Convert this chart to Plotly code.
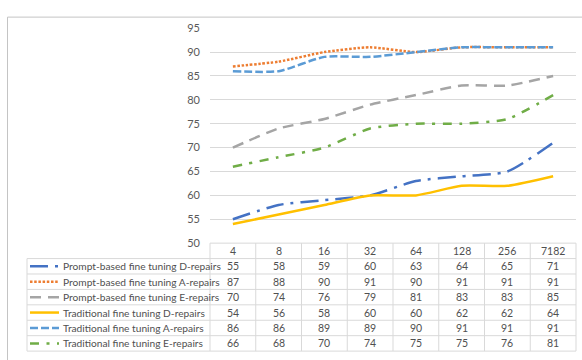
import plotly.graph_objects as go

# Few-shot sizes (category axis) and scores per method
shots = ["4", "8", "16", "32", "64", "128", "256", "7182"]

series_names = [
    "Prompt-based fine tuning D-repairs",
    "Prompt-based fine tuning A-repairs",
    "Prompt-based fine tuning E-repairs",
    "Traditional fine tuning D-repairs",
    "Traditional fine tuning A-repairs",
    "Traditional fine tuning E-repairs",
]
prompt_d = [55, 58, 59, 60, 63, 64, 65, 71]
prompt_a = [87, 88, 90, 91, 90, 91, 91, 91]
prompt_e = [70, 74, 76, 79, 81, 83, 83, 85]
trad_d = [54, 56, 58, 60, 60, 62, 62, 64]
trad_a = [86, 86, 89, 89, 90, 91, 91, 91]
trad_e = [66, 68, 70, 74, 75, 75, 76, 81]
y_ticks = [50, 55, 60, 65, 70, 75, 80, 85, 90, 95]

series_values = [prompt_d, prompt_a, prompt_e, trad_d, trad_a, trad_e]
colors = ["#4472C4", "#ED7D31", "#A5A5A5", "#FFC000", "#5B9BD5", "#70AD47"]
dashes = [
    "18px,7px,3px,7px",
    "2.5px,1.7px",
    "11px,7px",
    "solid",
    "8px,3px",
    "9px,7.5px,3px,7.5px",
]

W, H = 582, 360
FONT = "Lato, sans-serif"
TEXT_COLOR = "#595959"
CELL_COLOR = "#505050"
GRID = "#D9D9D9"

# pixel geometry of the plotting area and the data table beneath it
PLOT_L, PLOT_R, PLOT_T, PLOT_B = 210, 576, 22, 245
LEG_L = 27
ROW_H = 16


def px(x):
    return x / W


def py(y):
    return 1 - y / H


fig = go.Figure()
for name, vals, col, dash in zip(series_names, series_values, colors, dashes):
    fig.add_trace(go.Scatter(
        x=shots, y=vals, name=name, mode="lines",
        line=dict(color=col, width=2.5, dash=dash, shape="spline", smoothing=0.6),
        showlegend=False, cliponaxis=False,
    ))

shapes = []
annotations = []

# outer chart frame
shapes.append(dict(type="rect", xref="paper", yref="paper",
                   x0=px(7.5), x1=1.05, y0=-0.05, y1=py(10.5),
                   line=dict(color="#C4C4C4", width=1)))

n = len(shots)
col_w = (PLOT_R - PLOT_L) / n
table_bottom = PLOT_B + ROW_H * (len(series_names) + 1)

# header top border
shapes.append(dict(type="line", xref="paper", yref="paper",
                   x0=px(PLOT_L), x1=px(PLOT_R), y0=py(PLOT_B), y1=py(PLOT_B),
                   line=dict(color=GRID, width=1)))
# row borders
for r in range(1, len(series_names) + 2):
    yy = PLOT_B + ROW_H * r
    shapes.append(dict(type="line", xref="paper", yref="paper",
                       x0=px(LEG_L), x1=px(PLOT_R), y0=py(yy), y1=py(yy),
                       line=dict(color=GRID, width=1)))
# column borders
for j in range(n + 1):
    xx = PLOT_L + col_w * j
    shapes.append(dict(type="line", xref="paper", yref="paper",
                       x0=px(xx), x1=px(xx), y0=py(PLOT_B), y1=py(table_bottom),
                       line=dict(color=GRID, width=1)))
shapes.append(dict(type="line", xref="paper", yref="paper",
                   x0=px(LEG_L), x1=px(LEG_L), y0=py(PLOT_B + ROW_H), y1=py(table_bottom),
                   line=dict(color=GRID, width=1)))

# header labels
for i, s in enumerate(shots):
    annotations.append(dict(x=i, xref="x", y=py(PLOT_B + ROW_H / 2), yref="paper",
                            text=s, showarrow=False, xanchor="center", yanchor="middle",
                            borderpad=0,
                            font=dict(family=FONT, size=10.5, color=CELL_COLOR)))

# data rows with legend keys
for r, (name, vals, col, dash) in enumerate(zip(series_names, series_values, colors, dashes)):
    yc = PLOT_B + ROW_H * (r + 1) + ROW_H / 2
    shapes.append(dict(type="line", xref="paper", yref="paper",
                       x0=px(30), x1=px(59), y0=py(yc), y1=py(yc),
                       line=dict(color=col, width=2.5, dash=dash)))
    annotations.append(dict(x=px(62), xref="paper", y=py(yc), yref="paper",
                            text=name, showarrow=False, xanchor="left", yanchor="middle",
                            borderpad=0,
                            font=dict(family=FONT, size=10.2, color=CELL_COLOR)))
    for i, v in enumerate(vals):
        annotations.append(dict(x=i, xref="x", y=py(yc), yref="paper",
                                text=str(v), showarrow=False, xanchor="center", yanchor="middle",
                                borderpad=0,
                                font=dict(family=FONT, size=10.5, color=CELL_COLOR)))

fig.update_layout(
    width=W, height=H, autosize=False,
    margin=dict(l=0, r=0, t=0, b=0),
    paper_bgcolor="white", plot_bgcolor="white",
    xaxis=dict(type="category", domain=[px(PLOT_L), px(PLOT_R)], range=[-0.5, n - 0.5],
               showticklabels=False, showgrid=False, zeroline=False, showline=False,
               fixedrange=True),
    yaxis=dict(domain=[py(PLOT_B), py(PLOT_T)], range=[y_ticks[0], y_ticks[-1]],
               tickvals=y_ticks, showgrid=True, gridcolor=GRID, gridwidth=1,
               zeroline=False, showline=False, ticks="", ticklabelstandoff=9,
               tickfont=dict(family=FONT, size=11, color=TEXT_COLOR), fixedrange=True),
    shapes=shapes,
    annotations=annotations,
)

fig.write_html("out.html")
